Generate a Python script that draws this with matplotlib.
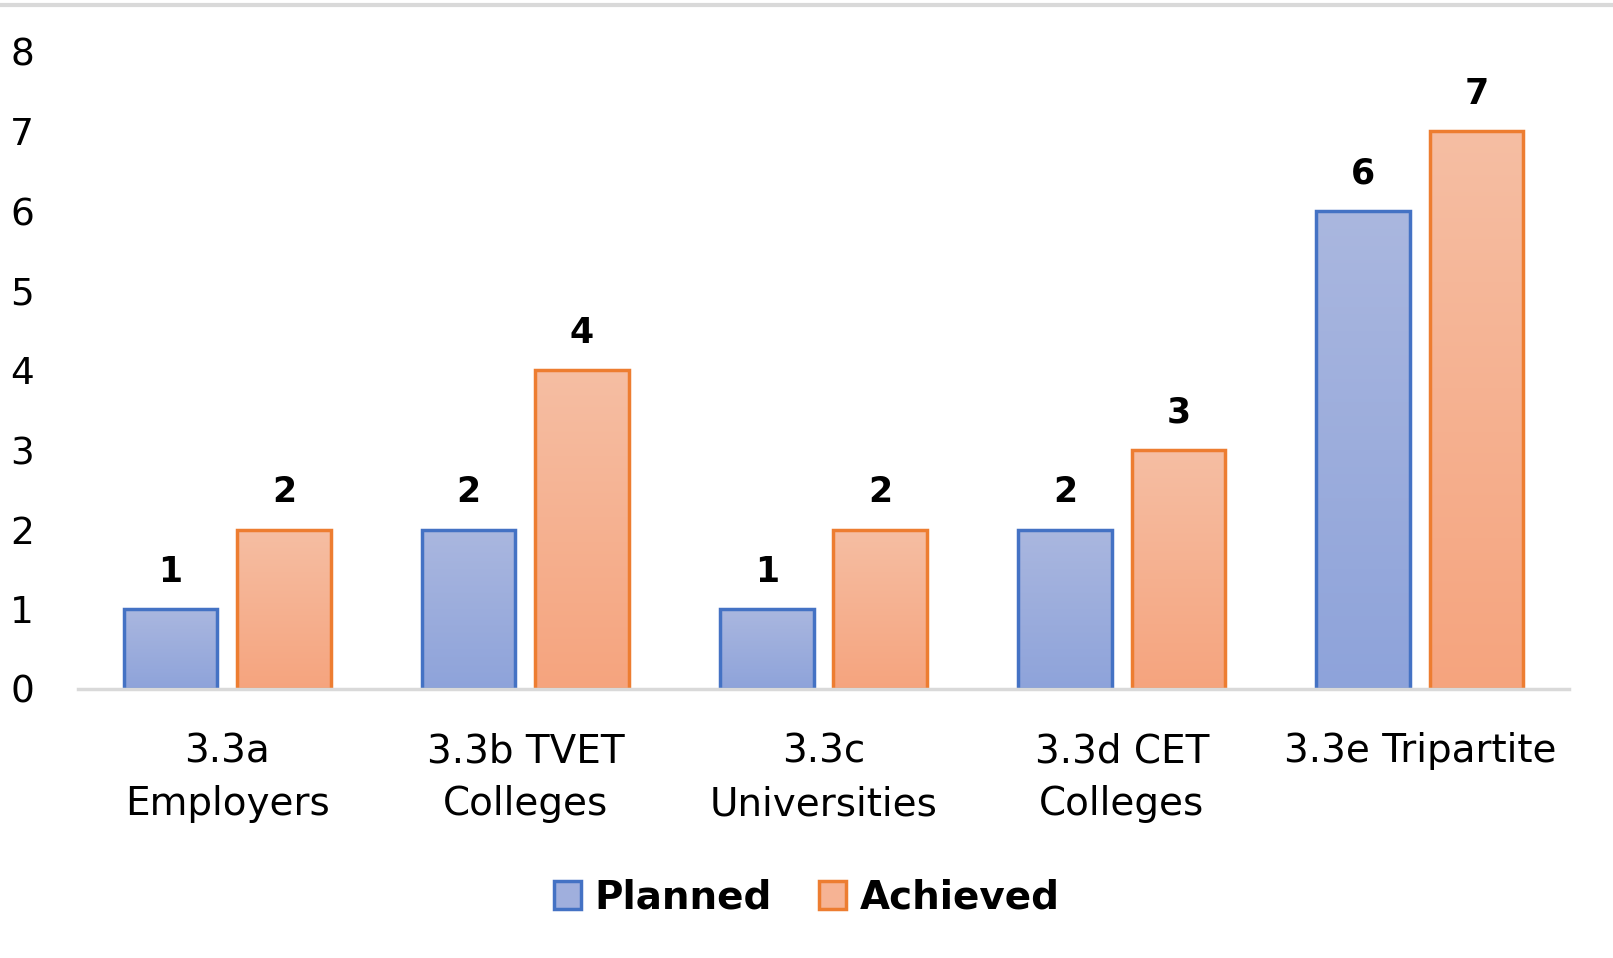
import numpy as np
import matplotlib
matplotlib.use("Agg")
import matplotlib.pyplot as plt
from matplotlib.colors import LinearSegmentedColormap
from matplotlib.patches import Patch
from matplotlib.lines import Line2D

# data
categories = ["3.3a\nEmployers", "3.3b TVET\nColleges", "3.3c\nUniversities",
              "3.3d CET\nColleges", "3.3e Tripartite"]
planned = [1, 2, 1, 2, 6]
achieved = [2, 4, 2, 3, 7]
series_names = ["Planned", "Achieved"]

plt.rcParams['font.family'] = ['DejaVu Sans']

fig = plt.figure(figsize=(16.13, 9.58), dpi=100)
ax = fig.add_axes([0.0484, 0.2808, 0.9243, 0.6652])

x = np.arange(len(categories))
w = 0.314
off = 0.19

blue_cm = LinearSegmentedColormap.from_list("b", ["#8EA3DA", "#AAB7DF"])
orange_cm = LinearSegmentedColormap.from_list("o", ["#F5A47E", "#F6BEA3"])
grad = np.linspace(0, 1, 256).reshape(-1, 1)

def grad_bars(xs, vals, edge, cmap):
    bars = ax.bar(xs, vals, w, facecolor="none", edgecolor=edge, linewidth=2.5, zorder=3)
    for b in bars:
        x0, y0 = b.get_x(), b.get_y()
        im = ax.imshow(grad, cmap=cmap, origin="lower", aspect="auto",
                       extent=(x0, x0 + b.get_width(), y0, y0 + b.get_height()), zorder=2)
        im.set_clip_path(b)
    for xi, v in zip(xs, vals):
        ax.annotate(str(v), (xi, v), xytext=(0, 15), textcoords="offset points",
                    ha="center", va="bottom", fontsize=25, fontweight="bold")
    return bars

grad_bars(x - off, planned, "#4472C4", blue_cm)
grad_bars(x + off, achieved, "#ED7D31", orange_cm)

ax.set_xlim(-0.5, len(categories) - 0.5)
ax.set_ylim(0, 8)
ax.set_yticks(range(0, 9))
ax.set_xticks(x)
ax.set_xticklabels(categories, fontsize=28, linespacing=1.5)
ax.tick_params(axis="x", length=0, pad=31)
ax.tick_params(axis="y", length=0, pad=49, labelsize=27)
for t in ax.get_yticklabels():
    t.set_ha("left")
for s in ["top", "right", "left"]:
    ax.spines[s].set_visible(False)
ax.spines["bottom"].set_color("#D9D9D9")
ax.spines["bottom"].set_linewidth(2.5)
ax.spines["bottom"].set_zorder(4)

# thin grey border at the top of the picture
fig.add_artist(Line2D([0, 1], [0.995, 0.995], color="#D9D9D9", linewidth=3,
                      transform=fig.transFigure))

handles = [Patch(facecolor="#A0AFDD", edgecolor="#4472C4", linewidth=2.5),
           Patch(facecolor="#F6B394", edgecolor="#ED7D31", linewidth=2.5)]
fig.legend(handles, series_names, loc="center", bbox_to_anchor=(0.5, 0.063), ncol=2,
           frameon=False, prop={"size": 28, "weight": "bold"},
           handlelength=0.7, handleheight=0.7, handletextpad=0.35, columnspacing=1.2)

fig.savefig("out.png", dpi=100)
